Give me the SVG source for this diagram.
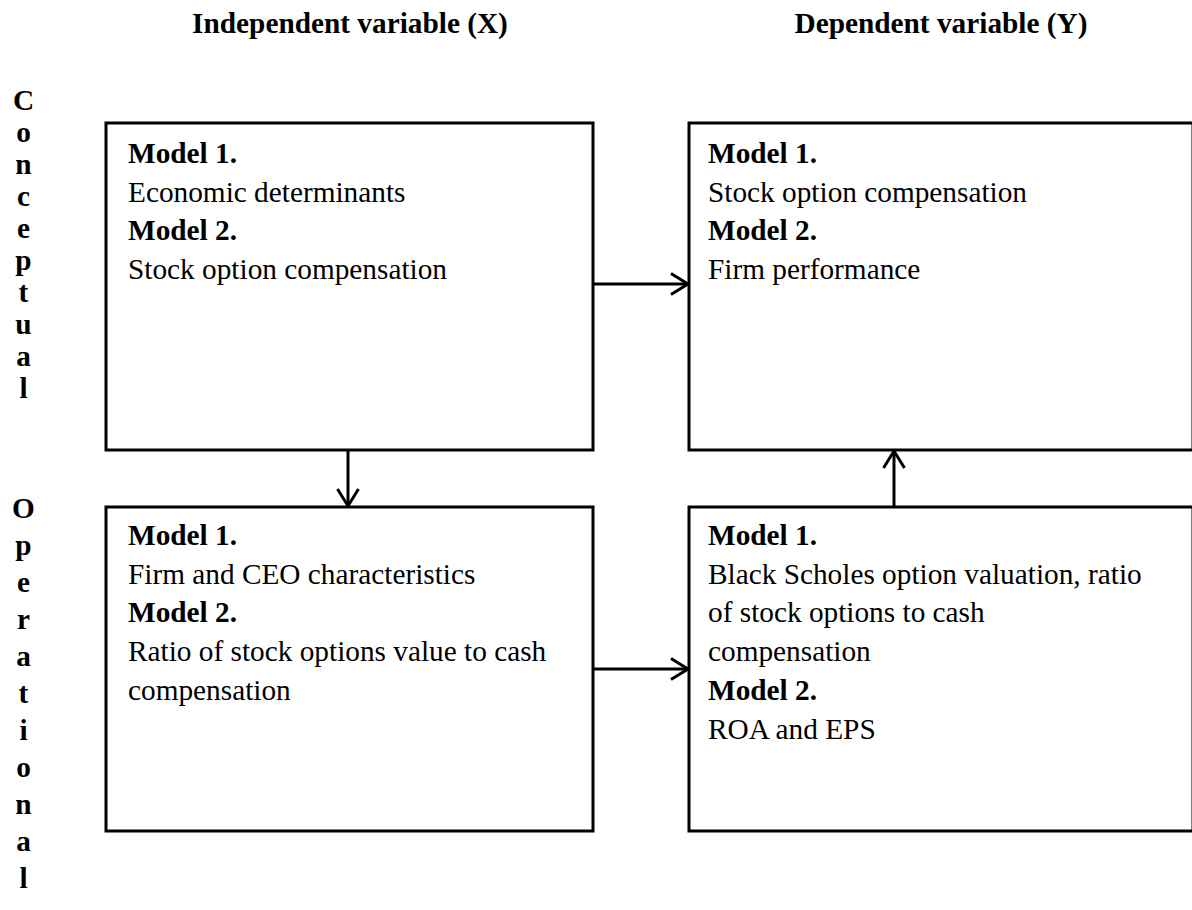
<svg xmlns="http://www.w3.org/2000/svg" width="1192" height="910" viewBox="0 0 1192 910">
<style>
text{font-family:"Liberation Serif","Times New Roman",serif;font-size:29.3px;fill:#000}
.b{font-weight:bold}
.box{fill:#fff;stroke:#000;stroke-width:3}
.conn{stroke:#000;stroke-width:3;fill:none}
.side{font-weight:bold;text-anchor:middle}
</style>
<defs>
<marker id="arr" markerUnits="userSpaceOnUse" markerWidth="24" markerHeight="26" refX="18" refY="12" orient="auto">
<path d="M1,1.5 L18,12 L1,22.5" fill="none" stroke="#000" stroke-width="3"/>
</marker>
</defs>
<rect width="1192" height="910" fill="#fff"/>
<g id="headers">
<text class="b" x="350" y="32.5" text-anchor="middle">Independent variable (X)</text>
<text class="b" x="941" y="32.5" text-anchor="middle">Dependent variable (Y)</text>
</g>
<g id="side-labels">
<text class="side" x="23.5" y="110">C</text>
<text class="side" x="23.5" y="142">o</text>
<text class="side" x="23.5" y="174">n</text>
<text class="side" x="23.5" y="206">c</text>
<text class="side" x="23.5" y="238">e</text>
<text class="side" x="23.5" y="270">p</text>
<text class="side" x="23.5" y="302">t</text>
<text class="side" x="23.5" y="334">u</text>
<text class="side" x="23.5" y="366">a</text>
<text class="side" x="23.5" y="398">l</text>
<text class="side" x="23.5" y="518">O</text>
<text class="side" x="23.5" y="555">p</text>
<text class="side" x="23.5" y="592">e</text>
<text class="side" x="23.5" y="629">r</text>
<text class="side" x="23.5" y="666">a</text>
<text class="side" x="23.5" y="703">t</text>
<text class="side" x="23.5" y="740">i</text>
<text class="side" x="23.5" y="777">o</text>
<text class="side" x="23.5" y="814">n</text>
<text class="side" x="23.5" y="851">a</text>
<text class="side" x="23.5" y="888">l</text>
</g>
<g id="connectors">
<line class="conn" x1="593" y1="284" x2="688" y2="284" marker-end="url(#arr)"/>
<line class="conn" x1="593" y1="669" x2="688" y2="669" marker-end="url(#arr)"/>
<line class="conn" x1="348" y1="450" x2="348" y2="506" marker-end="url(#arr)"/>
<line class="conn" x1="894" y1="507" x2="894" y2="451" marker-end="url(#arr)"/>
</g>
<g id="node-conceptual-x">
<rect class="box" x="106" y="123" width="487" height="327"/>
<text class="b" x="128" y="163">Model 1.</text>
<text x="128" y="201.7">Economic determinants</text>
<text class="b" x="128" y="240.4">Model 2.</text>
<text x="128" y="279.1">Stock option compensation</text>
</g>
<g id="node-conceptual-y">
<rect class="box" x="689" y="123" width="504" height="327"/>
<text class="b" x="708" y="163">Model 1.</text>
<text x="708" y="201.7">Stock option compensation</text>
<text class="b" x="708" y="240.4">Model 2.</text>
<text x="708" y="279.1">Firm performance</text>
</g>
<g id="node-operational-x">
<rect class="box" x="106" y="507" width="487" height="324"/>
<text class="b" x="128" y="545">Model 1.</text>
<text x="128" y="583.7">Firm and CEO characteristics</text>
<text class="b" x="128" y="622.4">Model 2.</text>
<text x="128" y="661.1">Ratio of stock options value to cash</text>
<text x="128" y="699.8">compensation</text>
</g>
<g id="node-operational-y">
<rect class="box" x="689" y="507" width="504" height="324"/>
<text class="b" x="708" y="545">Model 1.</text>
<text x="708" y="583.7">Black Scholes option valuation, ratio</text>
<text x="708" y="622.4">of stock options to cash</text>
<text x="708" y="661.1">compensation</text>
<text class="b" x="708" y="699.8">Model 2.</text>
<text x="708" y="738.5">ROA and EPS</text>
</g>
</svg>
